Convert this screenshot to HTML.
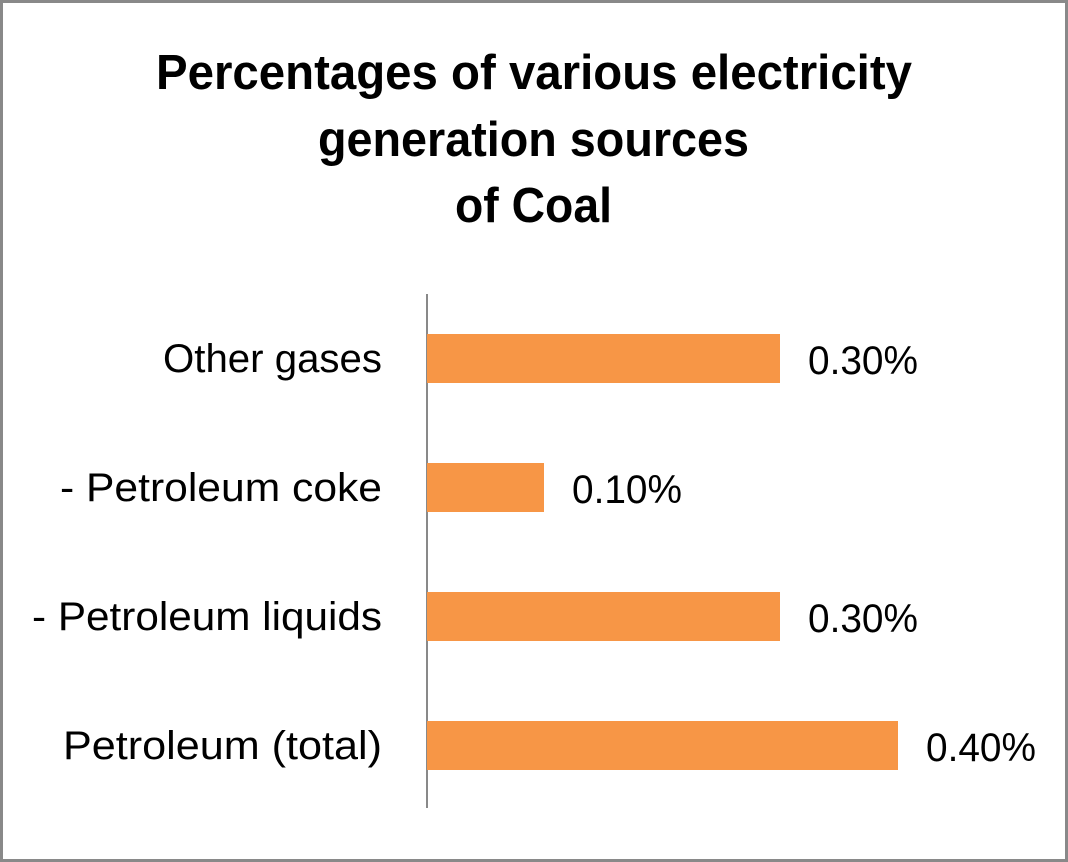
<!DOCTYPE html>
<html><head><meta charset="utf-8"><style>
html,body{margin:0;padding:0;background:#fff}
svg{display:block}
</style></head><body>
<svg width="1068" height="862" xmlns="http://www.w3.org/2000/svg">
<rect x="1.5" y="1.5" width="1065" height="859" fill="#fff" stroke="#898989" stroke-width="3"/>
<g font-family="Liberation Sans, sans-serif" font-weight="bold" font-size="49" fill="#000">
<text x="156" y="89" textLength="756" lengthAdjust="spacingAndGlyphs">Percentages of various electricity</text>
<text x="318" y="156" textLength="431" lengthAdjust="spacingAndGlyphs">generation sources</text>
<text x="455" y="222" textLength="157" lengthAdjust="spacingAndGlyphs">of Coal</text>
</g>
<line x1="427" y1="294" x2="427" y2="808" stroke="#898989" stroke-width="2"/>
<g fill="#F79646">
<rect x="427" y="334" width="353" height="49"/>
<rect x="427" y="463" width="117" height="49"/>
<rect x="427" y="592" width="353" height="49"/>
<rect x="427" y="721" width="471" height="49"/>
</g>
<g font-family="Liberation Sans, sans-serif" font-size="40" fill="#000">
<text x="163" y="372" textLength="219" lengthAdjust="spacingAndGlyphs">Other gases</text>
<text x="60" y="501" textLength="322" lengthAdjust="spacingAndGlyphs">- Petroleum coke</text>
<text x="32" y="630" textLength="350" lengthAdjust="spacingAndGlyphs">- Petroleum liquids</text>
<text x="63" y="759" textLength="319" lengthAdjust="spacingAndGlyphs">Petroleum (total)</text>
<text x="808" y="374" textLength="110" lengthAdjust="spacingAndGlyphs">0.30%</text>
<text x="572" y="503" textLength="110" lengthAdjust="spacingAndGlyphs">0.10%</text>
<text x="808" y="632" textLength="110" lengthAdjust="spacingAndGlyphs">0.30%</text>
<text x="926" y="761" textLength="110" lengthAdjust="spacingAndGlyphs">0.40%</text>
</g>
</svg>
</body></html>
